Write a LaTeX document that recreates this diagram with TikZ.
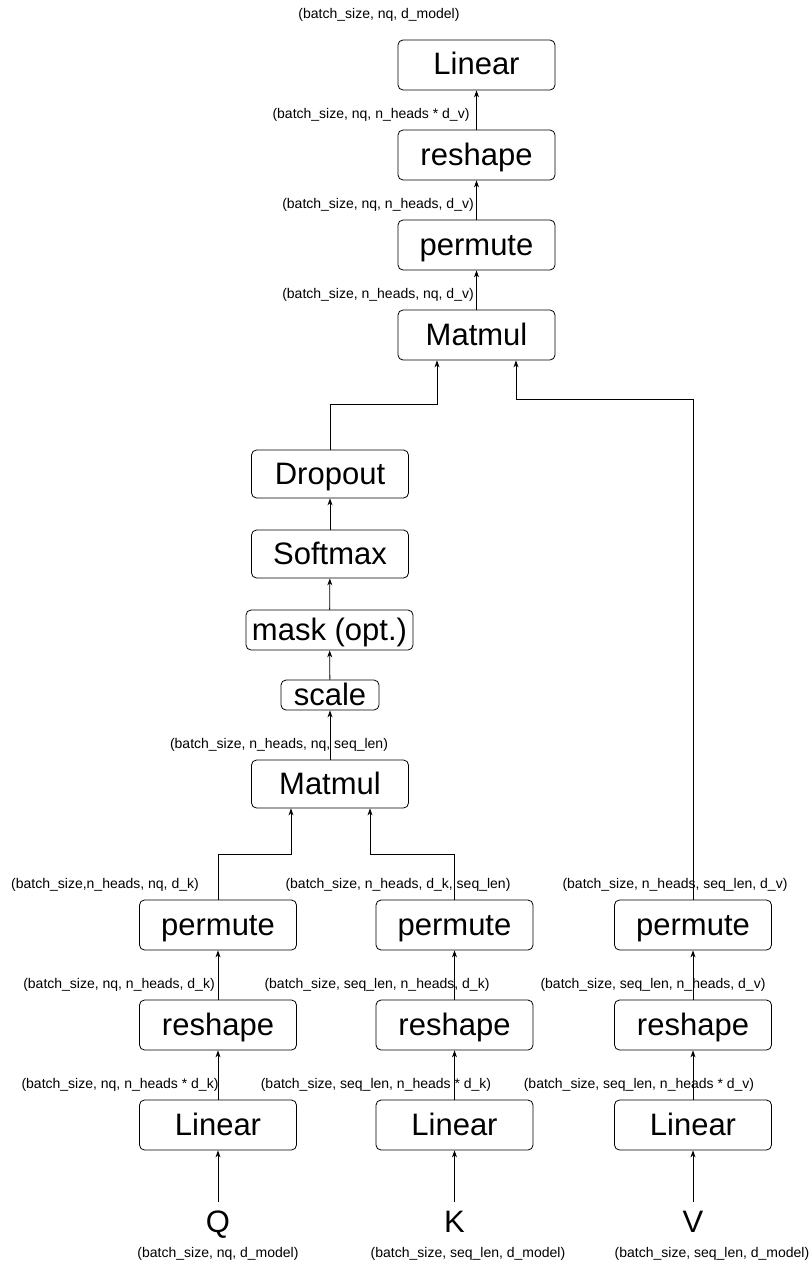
\documentclass[tikz,border=0pt]{standalone}
\usepackage{fontspec}
\setmainfont{Liberation Sans}
\usetikzlibrary{arrows.meta}

\begin{document}
\begin{tikzpicture}[x=1pt,y=-1pt,
    box/.style={draw,rounded corners=5pt,line width=0.8pt,minimum width=157pt,
      minimum height=50pt,inner sep=0pt,text height=24pt,text depth=4pt,
      font=\fontsize{31}{34}\selectfont},
    dims/.style={inner sep=1pt,font=\fontsize{14}{16}\selectfont},
    flow/.style={-{Stealth[length=7pt,width=5pt]},line width=0.8pt}]
  \useasboundingbox (0,0) rectangle (811,1271);

  % output part
  \node[box] (outlin) at (476.5,65) {Linear};
  \node[box] (outresh) at (476.5,155) {reshape};
  \node[box] (outperm) at (476.5,245) {permute};
  \node[box] (attmat) at (476.5,335) {Matmul};

  % scores
  \node[box,minimum height=48pt] (drop) at (330,474) {Dropout};
  \node[box,minimum height=48pt] (soft) at (330,554) {Softmax};
  \node[box,minimum width=167pt,minimum height=40pt] (mask) at (329.5,630) {mask (opt.)};
  \node[box,minimum width=98pt,minimum height=30pt] (scale) at (330,695) {scale};
  \node[box,minimum height=48pt] (scoremat) at (330,784) {Matmul};

  % inputs Q, K, V
  \foreach \c/\x/\lbl in {q/218/Q, k/454.5/K, v/693/V} {
    \node[box] (\c perm) at (\x,925) {permute};
    \node[box] (\c resh) at (\x,1025) {reshape};
    \node[box] (\c lin) at (\x,1125) {Linear};
    \node[anchor=base,inner sep=8pt,text height=22pt,text depth=0pt,
      font=\fontsize{31}{34}\selectfont] (\c in) at (\x,1232) {\lbl};
    \draw[flow] (\c in) -- (\c lin);
    \draw[flow] (\c lin) -- (\c resh);
    \draw[flow] (\c resh) -- (\c perm);
  }

  \draw[flow] (qperm.north) -- ++(0,-45) -| ([xshift=-39pt]scoremat.south);
  \draw[flow] (kperm.north) -- ++(0,-45) -| ([xshift=40pt]scoremat.south);
  \draw[flow] (scoremat) -- (scale);
  \draw[flow] (scale) -- (mask);
  \draw[flow] (mask) -- (soft);
  \draw[flow] (soft) -- (drop);
  \draw[flow] (drop.north) -- ++(0,-45) -| ([xshift=-39.5pt]attmat.south);
  \draw[flow] (vperm.north) -- ++(0,-500) -| ([xshift=39.5pt]attmat.south);
  \draw[flow] (attmat) -- (outperm);
  \draw[flow] (outperm) -- (outresh);
  \draw[flow] (outresh) -- (outlin);

  % shapes
  \node[dims] (dimout) at (379,15) {(batch\_size, nq, d\_model)};
  \node[dims] (dimcat) at (371,115) {(batch\_size, nq, n\_heads * d\_v)};
  \node[dims] (dimtr) at (378,205) {(batch\_size, nq, n\_heads, d\_v)};
  \node[dims] (dimatt) at (378,295) {(batch\_size, n\_heads, nq, d\_v)};
  \node[dims] (dimscore) at (279,745) {(batch\_size, n\_heads, nq, seq\_len)};
  \node[dims] (dimqp) at (105,885) {(batch\_size,n\_heads, nq, d\_k)};
  \node[dims] (dimkp) at (398,885) {(batch\_size, n\_heads, d\_k, seq\_len)};
  \node[dims] (dimvp) at (675,885) {(batch\_size, n\_heads, seq\_len, d\_v)};
  \node[dims] (dimqr) at (119,985) {(batch\_size, nq, n\_heads, d\_k)};
  \node[dims] (dimkr) at (377,985) {(batch\_size, seq\_len, n\_heads, d\_k)};
  \node[dims] (dimvr) at (653,985) {(batch\_size, seq\_len, n\_heads, d\_v)};
  \node[dims] (dimql) at (120,1085) {(batch\_size, nq, n\_heads * d\_k)};
  \node[dims] (dimkl) at (376,1085) {(batch\_size, seq\_len, n\_heads * d\_k)};
  \node[dims] (dimvl) at (639,1085) {(batch\_size, seq\_len, n\_heads * d\_v)};
  \node[dims] (dimq) at (218,1254) {(batch\_size, nq, d\_model)};
  \node[dims] (dimk) at (468,1254) {(batch\_size, seq\_len, d\_model)};
  \node[dims] (dimv) at (712,1254) {(batch\_size, seq\_len, d\_model)};
\end{tikzpicture}
\end{document}
